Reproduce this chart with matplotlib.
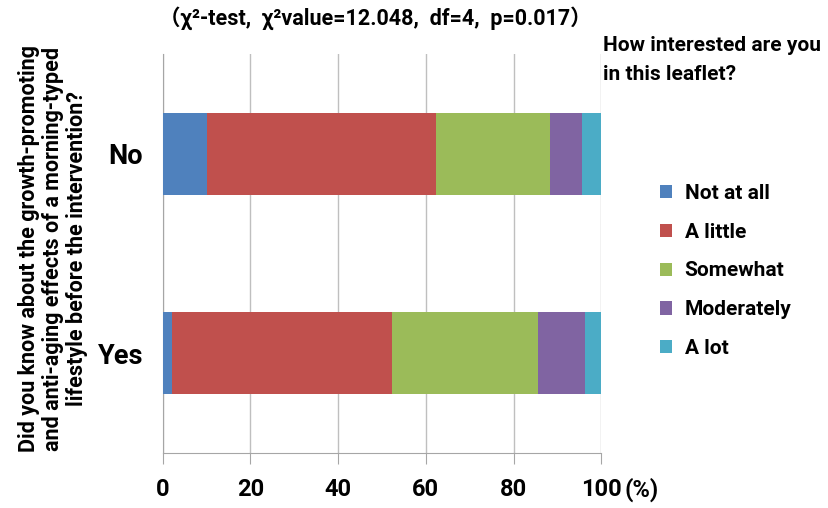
import matplotlib
matplotlib.use('Agg')
import matplotlib.pyplot as plt
import numpy as np

groups = ['No', 'Yes']
levels = ['Not at all', 'A little', 'Somewhat', 'Moderately', 'A lot']
colors = ['#4F81BD', '#C0504D', '#9BBB59', '#8064A2', '#4BACC6']
# percent of respondents per answer
no_vals = [10.2, 52.1, 26.1, 7.2, 4.4]
yes_vals = [2.0, 50.3, 33.3, 10.7, 3.7]
ticks = [0, 20, 40, 60, 80, 100]

plt.rcParams['font.family'] = ['Roboto', 'Noto Sans CJK JP', 'DejaVu Sans']
plt.rcParams['font.weight'] = 'bold'

fig = plt.figure(figsize=(8.29, 5.08), dpi=100)
ax = fig.add_axes([0.1963, 0.1083, 0.529, 0.7854])

ypos = [1, 0]
data = np.array([no_vals, yes_vals])
left = np.zeros(2)
for i, lab in enumerate(levels):
    ax.barh(ypos, data[:, i], left=left, height=0.41, color=colors[i],
            label=lab, zorder=3)
    left += data[:, i]

ax.set_xlim(0, 100)
ax.set_ylim(-0.5, 1.5)
ax.set_xticks(ticks)
ax.set_xticklabels([str(t) for t in ticks], fontsize=17, fontweight='bold')
ax.set_yticks(ypos)
ax.set_yticklabels(groups, fontsize=19.5, fontweight='bold')
ax.tick_params(axis='y', length=0, pad=14)
ax.tick_params(axis='x', length=8, color='#A6A6A6', pad=10)
ax.grid(axis='x', color='#BFBFBF', lw=1, zorder=0)
for s in ['top', 'right']:
    ax.spines[s].set_visible(False)
for s in ['left', 'bottom']:
    ax.spines[s].set_color('#A6A6A6')

fig.text(625/829, 1-490/508, '(%)', fontsize=17, fontweight='bold', va='center')

fig.text(375/829, 1-18/508, '（χ²-test,  χ²value=12.048,  df=4,  p=0.017）',
         fontsize=15.5, fontweight='bold', ha='center', va='center')

fig.text(603/829, 1-60/508, 'How interested are you\nin this leaflet?',
         fontsize=15, fontweight='bold', ha='left', va='center', linespacing=1.7)

fig.text(53/829, 1-249/508, 'Did you know about the growth-promoting\n'
         'and anti-aging effects of a morning-typed\n'
         'lifestyle before the intervention?',
         rotation=90, fontsize=15.5, fontweight='bold', ha='center', va='center',
         linespacing=1.12)

ax.legend(loc='center left', bbox_to_anchor=(641/829, 1-271/508),
          bbox_transform=fig.transFigure, frameon=False,
          prop={'size': 15, 'weight': 'bold'}, handlelength=0.6,
          handleheight=0.6, labelspacing=0.95, handletextpad=0.6)

fig.savefig('out.png', dpi=100)
